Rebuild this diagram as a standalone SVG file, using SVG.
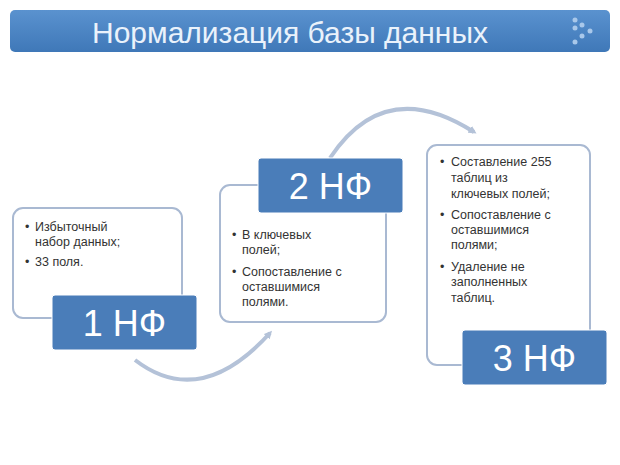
<svg xmlns="http://www.w3.org/2000/svg" width="620" height="465" viewBox="0 0 620 465">
<defs>
<linearGradient id="tg" x1="0" y1="0" x2="0" y2="1"><stop offset="0" stop-color="#5a92cf"/><stop offset="1" stop-color="#3f78b8"/></linearGradient>
<marker id="ah" markerWidth="8" markerHeight="8" refX="5" refY="4" orient="auto" markerUnits="userSpaceOnUse"><path d="M0,0 L8,4 L0,8 Z" fill="#b4c2d8"/></marker>
</defs>
<style>
.box{fill:#fff;stroke:#a9b9d2;stroke-width:2}
.lab{fill:#4a7db9;stroke:#fff;stroke-width:1}
.lt{font-family:"Liberation Sans",Arial,sans-serif;font-size:36px;fill:#fff;text-anchor:middle}
.t{font-family:"Liberation Sans",Arial,sans-serif;font-size:12.5px;fill:#333}
.c{fill:none;stroke:#b4c2d8;stroke-width:4}
</style>
<rect width="620" height="465" fill="#fff"/>
<g id="title">
<rect x="10" y="10" width="600" height="42" rx="5" fill="url(#tg)"/>
<text x="290" y="43" font-family="Liberation Sans,Arial,sans-serif" font-size="30" fill="#eaf2fb" text-anchor="middle">Нормализация базы данных</text>
<g fill="#a9c8ea"><circle cx="575" cy="20" r="2.5"/><circle cx="575" cy="28" r="2.5"/><circle cx="582" cy="25" r="2.5"/><circle cx="590" cy="31" r="2.5"/><circle cx="582" cy="36" r="2.5"/><circle cx="575" cy="42" r="2.5"/></g>
</g>
<g id="connectors">
<path class="c" d="M135,360 Q200,410 270,333" marker-end="url(#ah)"/>
<path class="c" d="M330,158 Q385,75 474,132" marker-end="url(#ah)"/>
</g>
<g id="n1">
<rect class="box" x="13" y="208" width="169" height="110" rx="10"/>
<text class="t" x="25" y="231">•</text><text class="t" x="35" y="231">Избыточный</text>
<text class="t" x="35" y="246">набор данных;</text>
<text class="t" x="25" y="266">•</text><text class="t" x="35" y="266">33 поля.</text>
<rect class="lab" x="52" y="295" width="145" height="55" rx="3"/>
<text class="lt" x="124.5" y="336">1 НФ</text>
</g>
<g id="n2">
<rect class="box" x="220" y="185" width="166" height="137" rx="10"/>
<text class="t" x="232" y="239">•</text><text class="t" x="242" y="239">В ключевых</text>
<text class="t" x="242" y="254">полей;</text>
<text class="t" x="232" y="276">•</text><text class="t" x="242" y="276">Сопоставление с</text>
<text class="t" x="242" y="291">оставшимися</text>
<text class="t" x="242" y="306">полями.</text>
<rect class="lab" x="258" y="158" width="145" height="55" rx="3"/>
<text class="lt" x="330.5" y="199">2 НФ</text>
</g>
<g id="n3">
<rect class="box" x="427" y="145" width="163" height="220" rx="10"/>
<text class="t" x="440" y="166">•</text><text class="t" x="451" y="166">Составление 255</text>
<text class="t" x="451" y="182">таблиц из</text>
<text class="t" x="451" y="198">ключевых полей;</text>
<text class="t" x="440" y="219">•</text><text class="t" x="451" y="219">Сопоставление с</text>
<text class="t" x="451" y="234">оставшимися</text>
<text class="t" x="451" y="249">полями;</text>
<text class="t" x="440" y="271">•</text><text class="t" x="451" y="271">Удаление не</text>
<text class="t" x="451" y="286">заполненных</text>
<text class="t" x="451" y="302">таблиц.</text>
<rect class="lab" x="462" y="330" width="145" height="55" rx="3"/>
<text class="lt" x="534.5" y="371">3 НФ</text>
</g>
</svg>
